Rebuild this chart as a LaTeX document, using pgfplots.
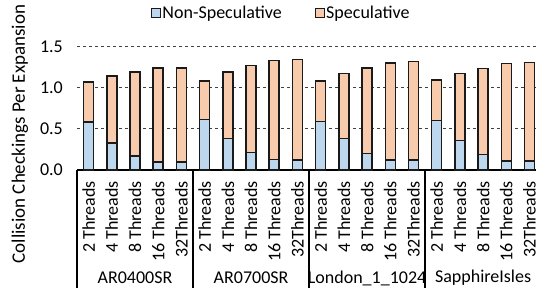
\documentclass[border=0pt]{standalone}
\usepackage{fontspec}
\setmainfont{Carlito}
\usepackage{pgfplots}
\pgfplotsset{compat=1.18}
\definecolor{nonspec}{HTML}{BDD7EE}
\definecolor{spec}{HTML}{F8CBAD}
\definecolor{edge}{HTML}{1A1A1A}
\newcommand{\tfont}{\fontsize{18bp}{20bp}\selectfont}
\begin{document}
\tfont
\begin{tikzpicture}
\begin{axis}[
  at={(77bp,124bp)}, anchor=south west,
  scale only axis,
  width=459bp, height=131.84bp,
  xmin=-0.5, xmax=19.28, ymin=0, ymax=1.6,
  enlargelimits=false,
  clip=false,
  ybar stacked, bar width=10bp,
  axis lines*=left,
  x axis line style={-, black, line width=1.3bp},
  y axis line style={draw=none},
  ytick={0,0.5,1.0,1.5},
  yticklabel style={/pgf/number format/fixed,/pgf/number format/precision=1,/pgf/number format/fixed zerofill, inner sep=0pt, xshift=-14bp},
  /pgf/number format/assume math mode=true,
  ymajorgrids,
  grid style={black!75, line width=0.8bp, dash pattern=on 3bp off 3bp},
  major tick length=0pt,
  tick style={draw=none},
  xtick={0,...,19},
  xticklabels={2 Threads,4 Threads,8 Threads,16 Threads,32Threads,2 Threads,4 Threads,8 Threads,16 Threads,32Threads,2 Threads,4 Threads,8 Threads,16 Threads,32Threads,2 Threads,4 Threads,8 Threads,16 Threads,32Threads},
  xticklabel style={rotate=90, anchor=east, inner sep=0pt},
  xticklabel shift=11bp,
  tick label style={font=\tfont},
  legend columns=2,
  legend style={draw=none, fill=none, at={(0.444,1.189)}, anchor=center,
    font=\tfont, nodes={inner sep=1bp},
    /tikz/every even column/.append style={column sep=32bp}},
  legend image code/.code={\draw[#1, draw=edge, line width=1bp] (0bp,-4.7bp) rectangle (9.4bp,4.7bp);},
]
\addplot[fill=nonspec, draw=edge, line width=1.5bp] coordinates {
(0,0.58) (1,0.33) (2,0.17) (3,0.10) (4,0.10)
(5,0.61) (6,0.38) (7,0.21) (8,0.125) (9,0.12)
(10,0.59) (11,0.38) (12,0.20) (13,0.12) (14,0.12)
(15,0.60) (16,0.36) (17,0.19) (18,0.11) (19,0.11)};
\addplot[fill=spec, draw=edge, line width=1.5bp] coordinates {
(0,0.49) (1,0.81) (2,1.02) (3,1.14) (4,1.14)
(5,0.47) (6,0.81) (7,1.06) (8,1.205) (9,1.22)
(10,0.49) (11,0.79) (12,1.04) (13,1.18) (14,1.195)
(15,0.49) (16,0.81) (17,1.04) (18,1.18) (19,1.195)};
\legend{Non-Speculative,Speculative}
\draw[black, line width=1.3bp] (axis cs:-0.5,0) -- ([yshift=-118bp]axis cs:-0.5,0);
\draw[black, line width=1.3bp] (axis cs:4.5,0) -- ([yshift=-118bp]axis cs:4.5,0);
\draw[black, line width=1.3bp] (axis cs:9.5,0) -- ([yshift=-118bp]axis cs:9.5,0);
\draw[black, line width=1.3bp] (axis cs:14.5,0) -- ([yshift=-118bp]axis cs:14.5,0);
\node[yshift=-108bp] at (axis cs:2,0) {AR0400SR};
\node[yshift=-108bp] at (axis cs:7,0) {AR0700SR};
\node[yshift=-108bp] at (axis cs:12,0) {London\_1\_1024};
\node[yshift=-108bp] at (axis cs:17,0) {SapphireIsles};
\end{axis}
\node[rotate=90, font=\fontsize{19bp}{21bp}\selectfont] at (20bp,160bp) {Collision Checkings Per Expansion};
\pgfresetboundingbox
\useasboundingbox (0,0) rectangle (536bp,294bp);
\end{tikzpicture}
\end{document}
